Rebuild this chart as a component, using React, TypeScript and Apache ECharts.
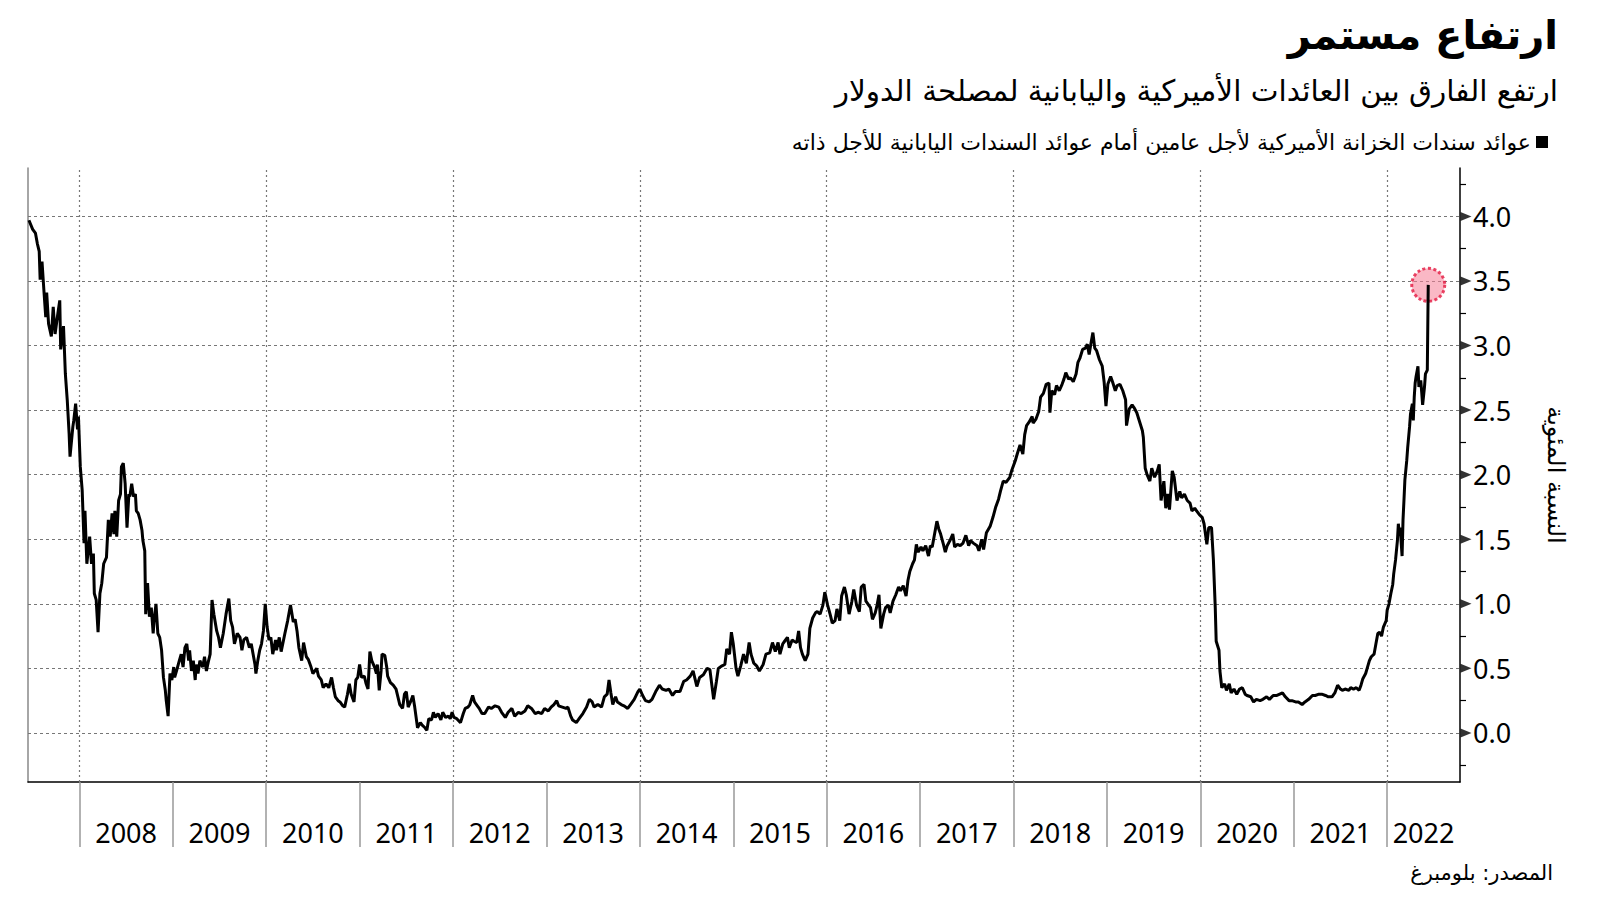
import React, { useEffect, useRef } from "react";
import * as echarts from "echarts";

const TITLE = "ارتفاع مستمر";
const SUBTITLE = "ارتفع الفارق بين العائدات الأميركية واليابانية لمصلحة الدولار";
const SERIES_NAME = "عوائد سندات الخزانة الأميركية لأجل عامين أمام عوائد السندات اليابانية للأجل ذاته";
const Y_NAME = "النسبة المئوية";
const SOURCE = "المصدر: بلومبرغ";

const X_MIN = 2007.45;
const X_MAX = 2022.78;
const Y_MIN = -0.38;
const Y_MAX = 4.375;

const yearTicks = [2008, 2009, 2010, 2011, 2012, 2013, 2014, 2015, 2016, 2017, 2018, 2019, 2020, 2021, 2022];
const yearGrid = [2008, 2010, 2012, 2014, 2016, 2018, 2020, 2022];
const yLabels = [0, 0.5, 1, 1.5, 2, 2.5, 3, 3.5, 4];
const yMinorTicks = [-0.25, 0.25, 0.75, 1.25, 1.75, 2.25, 2.75, 3.25, 3.75, 4.25];

// [fractional year, spread in percentage points]
const spread2007to2010 = [
  [2007.46, 3.97], [2007.5, 3.9], [2007.53, 3.87], [2007.55, 3.79], [2007.57, 3.73], [2007.58, 3.51],
  [2007.6, 3.65], [2007.62, 3.43], [2007.64, 3.22], [2007.65, 3.41], [2007.67, 3.17], [2007.7, 3.07],
  [2007.72, 3.3], [2007.74, 3.09], [2007.77, 3.25], [2007.79, 3.35], [2007.8, 2.97], [2007.83, 3.15],
  [2007.85, 2.78], [2007.87, 2.58], [2007.89, 2.32], [2007.9, 2.14], [2007.93, 2.37], [2007.94, 2.42],
  [2007.96, 2.55], [2007.98, 2.35], [2007.99, 2.45], [2008.01, 2.06], [2008.03, 1.88], [2008.05, 1.47],
  [2008.06, 1.72], [2008.08, 1.31], [2008.11, 1.52], [2008.13, 1.31], [2008.15, 1.39], [2008.16, 1.08],
  [2008.18, 1.03], [2008.2, 0.78], [2008.22, 1.08], [2008.24, 1.16], [2008.26, 1.31], [2008.29, 1.36],
  [2008.31, 1.65], [2008.33, 1.52], [2008.35, 1.7], [2008.37, 1.54], [2008.38, 1.72], [2008.4, 1.52],
  [2008.42, 1.8], [2008.44, 1.85], [2008.45, 2.06], [2008.47, 2.09], [2008.49, 1.93], [2008.51, 1.59],
  [2008.53, 1.85], [2008.54, 1.83], [2008.56, 1.93], [2008.58, 1.83], [2008.6, 1.85], [2008.61, 1.72],
  [2008.63, 1.7], [2008.65, 1.65], [2008.67, 1.57], [2008.68, 1.49], [2008.7, 1.41], [2008.71, 0.92],
  [2008.73, 1.16], [2008.75, 0.9], [2008.77, 0.97], [2008.79, 0.77], [2008.8, 0.87], [2008.82, 1.0],
  [2008.84, 0.77], [2008.86, 0.74], [2008.88, 0.64], [2008.9, 0.43], [2008.92, 0.33], [2008.93, 0.25],
  [2008.95, 0.13], [2008.97, 0.46], [2008.99, 0.41], [2009.01, 0.51], [2009.02, 0.43], [2009.04, 0.48],
  [2009.07, 0.56], [2009.09, 0.61], [2009.11, 0.51], [2009.13, 0.66], [2009.15, 0.69], [2009.17, 0.56],
  [2009.18, 0.64], [2009.2, 0.48], [2009.22, 0.56], [2009.24, 0.41], [2009.25, 0.53], [2009.27, 0.46],
  [2009.29, 0.56], [2009.32, 0.51], [2009.34, 0.59], [2009.36, 0.48], [2009.38, 0.55], [2009.4, 0.61],
  [2009.42, 1.03], [2009.44, 0.92], [2009.47, 0.79], [2009.49, 0.74], [2009.51, 0.66], [2009.54, 0.77],
  [2009.56, 0.87], [2009.57, 0.92], [2009.6, 1.04], [2009.62, 0.87], [2009.64, 0.82], [2009.66, 0.69],
  [2009.69, 0.77], [2009.72, 0.74], [2009.74, 0.64], [2009.76, 0.72], [2009.79, 0.74], [2009.82, 0.66],
  [2009.84, 0.69], [2009.86, 0.61], [2009.88, 0.53], [2009.89, 0.46], [2009.91, 0.56], [2009.93, 0.64],
  [2009.95, 0.69], [2009.97, 0.79], [2009.99, 1.0], [2010.01, 0.82], [2010.03, 0.72], [2010.05, 0.74],
  [2010.07, 0.61], [2010.1, 0.72], [2010.11, 0.64], [2010.14, 0.74],
];

const spread2010to2014 = [
  [2010.16, 0.63], [2010.2, 0.77], [2010.23, 0.87], [2010.26, 0.99], [2010.29, 0.86], [2010.31, 0.88],
  [2010.33, 0.79], [2010.35, 0.66], [2010.38, 0.56], [2010.4, 0.7], [2010.43, 0.59], [2010.45, 0.57],
  [2010.48, 0.51], [2010.5, 0.46], [2010.54, 0.5], [2010.56, 0.44], [2010.59, 0.41], [2010.61, 0.35],
  [2010.64, 0.38], [2010.67, 0.35], [2010.7, 0.43], [2010.72, 0.35], [2010.74, 0.28], [2010.77, 0.25],
  [2010.79, 0.24], [2010.82, 0.21], [2010.84, 0.2], [2010.87, 0.3], [2010.89, 0.38], [2010.91, 0.3],
  [2010.94, 0.24], [2010.96, 0.41], [2010.98, 0.43], [2011.0, 0.53], [2011.02, 0.43], [2011.05, 0.44],
  [2011.07, 0.38], [2011.09, 0.34], [2011.11, 0.63], [2011.13, 0.56], [2011.16, 0.51], [2011.18, 0.46],
  [2011.19, 0.53], [2011.21, 0.33], [2011.23, 0.48], [2011.24, 0.61], [2011.27, 0.6], [2011.29, 0.51],
  [2011.3, 0.44], [2011.33, 0.39], [2011.36, 0.37], [2011.39, 0.34], [2011.41, 0.28], [2011.43, 0.22],
  [2011.46, 0.19], [2011.48, 0.3], [2011.5, 0.32], [2011.52, 0.2], [2011.55, 0.25], [2011.57, 0.29],
  [2011.59, 0.2], [2011.62, 0.04], [2011.65, 0.08], [2011.67, 0.06], [2011.7, 0.04], [2011.72, 0.02],
  [2011.74, 0.11], [2011.77, 0.1], [2011.79, 0.16], [2011.81, 0.12], [2011.84, 0.15], [2011.87, 0.1],
  [2011.89, 0.16], [2011.92, 0.12], [2011.95, 0.13], [2011.97, 0.11], [2011.99, 0.16], [2012.01, 0.12],
  [2012.04, 0.11], [2012.08, 0.08], [2012.11, 0.15], [2012.13, 0.19], [2012.16, 0.2], [2012.18, 0.22],
  [2012.21, 0.29], [2012.23, 0.24], [2012.26, 0.21], [2012.28, 0.19], [2012.31, 0.15], [2012.34, 0.15],
  [2012.38, 0.2], [2012.41, 0.19], [2012.45, 0.21], [2012.49, 0.2], [2012.52, 0.16], [2012.56, 0.12],
  [2012.59, 0.16], [2012.63, 0.19], [2012.66, 0.13], [2012.7, 0.16], [2012.73, 0.15], [2012.77, 0.17],
  [2012.8, 0.21], [2012.84, 0.19], [2012.88, 0.15], [2012.91, 0.16], [2012.95, 0.15], [2012.98, 0.19],
  [2013.02, 0.17], [2013.05, 0.2], [2013.08, 0.22], [2013.11, 0.25], [2013.13, 0.21], [2013.17, 0.2],
  [2013.21, 0.19], [2013.23, 0.2], [2013.26, 0.13], [2013.28, 0.1], [2013.32, 0.08], [2013.35, 0.11],
  [2013.39, 0.15], [2013.43, 0.2], [2013.46, 0.26], [2013.49, 0.24], [2013.51, 0.2], [2013.55, 0.22],
  [2013.59, 0.2], [2013.62, 0.28], [2013.65, 0.3], [2013.67, 0.41], [2013.69, 0.31], [2013.71, 0.22],
  [2013.74, 0.28], [2013.76, 0.24], [2013.8, 0.22], [2013.83, 0.21], [2013.87, 0.19], [2013.9, 0.22],
  [2013.94, 0.26], [2013.98, 0.32], [2014.0, 0.34], [2014.03, 0.29], [2014.06, 0.25], [2014.1, 0.24],
  [2014.13, 0.26], [2014.17, 0.32], [2014.21, 0.37], [2014.24, 0.34], [2014.28, 0.33], [2014.31, 0.34],
  [2014.35, 0.29], [2014.38, 0.32],
];

const spread2014to2017 = [
  [2014.43, 0.32], [2014.47, 0.4], [2014.5, 0.41], [2014.54, 0.44], [2014.57, 0.48], [2014.61, 0.36],
  [2014.64, 0.43], [2014.68, 0.45], [2014.72, 0.5], [2014.75, 0.49], [2014.79, 0.26], [2014.82, 0.4],
  [2014.84, 0.5], [2014.88, 0.52], [2014.91, 0.53], [2014.93, 0.65], [2014.96, 0.61], [2014.98, 0.78],
  [2015.0, 0.69], [2015.03, 0.5], [2015.05, 0.44], [2015.08, 0.52], [2015.11, 0.61], [2015.14, 0.54],
  [2015.17, 0.7], [2015.19, 0.61], [2015.22, 0.54], [2015.25, 0.52], [2015.28, 0.48], [2015.32, 0.53],
  [2015.35, 0.61], [2015.39, 0.62], [2015.42, 0.7], [2015.45, 0.63], [2015.48, 0.7], [2015.5, 0.61],
  [2015.53, 0.69], [2015.55, 0.71], [2015.58, 0.74], [2015.6, 0.66], [2015.63, 0.72], [2015.65, 0.71],
  [2015.68, 0.7], [2015.7, 0.79], [2015.72, 0.66], [2015.74, 0.61], [2015.77, 0.56], [2015.8, 0.61],
  [2015.82, 0.81], [2015.85, 0.89], [2015.88, 0.93], [2015.9, 0.94], [2015.93, 0.92], [2015.96, 0.99],
  [2015.98, 1.09], [2016.01, 0.99], [2016.04, 0.91], [2016.06, 0.85], [2016.09, 0.87], [2016.11, 0.96],
  [2016.14, 0.87], [2016.16, 1.06], [2016.19, 1.13], [2016.21, 1.07], [2016.24, 0.92], [2016.27, 1.02],
  [2016.29, 1.11], [2016.32, 0.99], [2016.35, 0.94], [2016.37, 1.13], [2016.4, 1.15], [2016.42, 1.02],
  [2016.45, 0.99], [2016.47, 0.97], [2016.49, 0.88], [2016.52, 0.93], [2016.54, 0.99], [2016.56, 1.07],
  [2016.58, 0.81], [2016.61, 0.92], [2016.63, 0.97], [2016.66, 0.99], [2016.68, 0.93], [2016.71, 1.02],
  [2016.74, 1.07], [2016.77, 1.13], [2016.79, 1.1], [2016.82, 1.14], [2016.85, 1.06], [2016.87, 1.18],
  [2016.89, 1.25], [2016.92, 1.31], [2016.94, 1.34], [2016.96, 1.46], [2016.98, 1.4], [2017.01, 1.44],
  [2017.03, 1.41], [2017.06, 1.45], [2017.09, 1.37], [2017.11, 1.45], [2017.13, 1.44], [2017.16, 1.56],
  [2017.18, 1.64], [2017.2, 1.58], [2017.22, 1.54], [2017.25, 1.46], [2017.27, 1.4], [2017.29, 1.45],
  [2017.32, 1.49], [2017.35, 1.54], [2017.37, 1.44], [2017.4, 1.46], [2017.43, 1.45], [2017.46, 1.47],
  [2017.49, 1.53], [2017.52, 1.45], [2017.54, 1.49], [2017.57, 1.47], [2017.61, 1.45], [2017.63, 1.41],
  [2017.66, 1.5], [2017.68, 1.42], [2017.71, 1.55], [2017.75, 1.6], [2017.78, 1.67], [2017.81, 1.75],
  [2017.84, 1.81],
];

const spread2017to2020 = [
  [2017.86, 1.87], [2017.89, 1.95], [2017.92, 1.94], [2017.96, 1.98], [2017.98, 2.03], [2018.02, 2.11],
  [2018.04, 2.16], [2018.07, 2.23], [2018.1, 2.16], [2018.12, 2.31], [2018.14, 2.38], [2018.17, 2.41],
  [2018.2, 2.45], [2018.21, 2.4], [2018.24, 2.43], [2018.27, 2.49], [2018.29, 2.6], [2018.32, 2.63],
  [2018.35, 2.7], [2018.38, 2.71], [2018.39, 2.48], [2018.41, 2.65], [2018.44, 2.62], [2018.46, 2.69],
  [2018.49, 2.65], [2018.52, 2.7], [2018.54, 2.74], [2018.56, 2.79], [2018.59, 2.74], [2018.61, 2.75],
  [2018.64, 2.72], [2018.67, 2.78], [2018.69, 2.87], [2018.71, 2.9], [2018.74, 2.97], [2018.77, 2.98],
  [2018.79, 3.01], [2018.81, 2.93], [2018.83, 3.02], [2018.85, 3.1], [2018.87, 2.98], [2018.89, 2.96],
  [2018.92, 2.89], [2018.95, 2.84], [2018.97, 2.72], [2018.99, 2.53], [2019.01, 2.7], [2019.04, 2.76],
  [2019.06, 2.72], [2019.09, 2.65], [2019.11, 2.69], [2019.14, 2.7], [2019.17, 2.65], [2019.2, 2.58],
  [2019.21, 2.38], [2019.24, 2.51], [2019.27, 2.54], [2019.29, 2.52], [2019.32, 2.48], [2019.35, 2.41],
  [2019.38, 2.34], [2019.39, 2.29], [2019.41, 2.05], [2019.43, 2.0], [2019.46, 1.95], [2019.48, 2.05],
  [2019.51, 1.98], [2019.54, 2.03], [2019.56, 2.08], [2019.58, 1.8], [2019.61, 1.95], [2019.63, 1.74],
  [2019.65, 1.85], [2019.67, 1.73], [2019.7, 2.03], [2019.72, 1.98], [2019.75, 1.8], [2019.78, 1.87],
  [2019.8, 1.82], [2019.83, 1.85], [2019.86, 1.8], [2019.89, 1.78], [2019.91, 1.72], [2019.94, 1.74],
  [2019.96, 1.72], [2019.99, 1.69], [2020.02, 1.67], [2020.04, 1.62], [2020.07, 1.46], [2020.09, 1.59],
  [2020.12, 1.59],
];

const spread2020to2022 = [
  [2020.14, 1.34], [2020.16, 0.97], [2020.17, 0.71], [2020.2, 0.64], [2020.21, 0.48], [2020.23, 0.35],
  [2020.26, 0.38], [2020.28, 0.33], [2020.31, 0.38], [2020.33, 0.31], [2020.36, 0.34], [2020.39, 0.3],
  [2020.42, 0.34], [2020.45, 0.35], [2020.48, 0.3], [2020.5, 0.29], [2020.54, 0.28], [2020.57, 0.24],
  [2020.6, 0.26], [2020.64, 0.25], [2020.67, 0.26], [2020.71, 0.28], [2020.74, 0.26], [2020.78, 0.29],
  [2020.82, 0.29], [2020.85, 0.3], [2020.88, 0.31], [2020.91, 0.28], [2020.95, 0.25], [2020.98, 0.25],
  [2021.02, 0.24], [2021.05, 0.24], [2021.09, 0.22], [2021.12, 0.24], [2021.16, 0.26], [2021.2, 0.29],
  [2021.23, 0.29], [2021.27, 0.3], [2021.3, 0.3], [2021.34, 0.29], [2021.37, 0.28], [2021.41, 0.28],
  [2021.44, 0.31], [2021.47, 0.37], [2021.5, 0.34], [2021.52, 0.33], [2021.55, 0.34], [2021.59, 0.33],
  [2021.61, 0.35], [2021.64, 0.34], [2021.67, 0.35], [2021.7, 0.33], [2021.72, 0.37], [2021.74, 0.42],
  [2021.77, 0.46], [2021.79, 0.51], [2021.81, 0.56], [2021.83, 0.59], [2021.86, 0.61], [2021.88, 0.69],
  [2021.9, 0.77], [2021.92, 0.78], [2021.94, 0.75], [2021.96, 0.82], [2021.99, 0.87], [2022.0, 0.95],
  [2022.02, 1.0], [2022.04, 1.08], [2022.06, 1.15], [2022.07, 1.23], [2022.09, 1.34], [2022.11, 1.49],
  [2022.12, 1.62], [2022.13, 1.54], [2022.14, 1.59], [2022.16, 1.37], [2022.17, 1.65], [2022.18, 1.8],
  [2022.19, 1.96], [2022.21, 2.11], [2022.22, 2.21], [2022.24, 2.37], [2022.25, 2.47], [2022.27, 2.55],
  [2022.28, 2.42], [2022.29, 2.6], [2022.3, 2.71], [2022.31, 2.76], [2022.33, 2.84], [2022.34, 2.68],
  [2022.36, 2.73], [2022.37, 2.64], [2022.38, 2.54], [2022.4, 2.68], [2022.41, 2.78], [2022.43, 2.81],
  [2022.44, 3.47],
];

export default function App() {
  const ref = useRef<HTMLDivElement>(null);

  useEffect(() => {
    if (!ref.current) return;
    const chart = echarts.init(ref.current, null, { renderer: "svg" });
    const data = [
      ...spread2007to2010,
      ...spread2010to2014,
      ...spread2014to2017,
      ...spread2017to2020,
      ...spread2020to2022,
    ];
    const last = data[data.length - 1];
    const labelPositions = yearTicks.map((y) => (y + Math.min(y + 1, X_MAX)) / 2);
    const arabic = "'DejaVu Sans', sans-serif";
    const latin = "'Noto Sans', 'DejaVu Sans', sans-serif";

    chart.setOption({
      animation: false,
      backgroundColor: "#ffffff",
      textStyle: { fontFamily: latin },
      grid: { left: 28, right: 140, top: 168, bottom: 119, containLabel: false },
      legend: {
        data: [SERIES_NAME],
        right: 47,
        top: 126,
        align: "right",
        icon: "rect",
        itemWidth: 12,
        itemHeight: 12,
        selectedMode: false,
        textStyle: { fontFamily: arabic, fontSize: 22, color: "#000" },
      },
      xAxis: {
        type: "value",
        min: X_MIN,
        max: X_MAX,
        axisLine: { show: true, onZero: false, lineStyle: { color: "#000", width: 1.5 } },
        axisTick: {
          show: true,
          customValues: yearTicks,
          length: 65,
          lineStyle: { color: "#999", width: 1.5 },
        },
        axisLabel: {
          customValues: labelPositions,
          formatter: (v: number) => String(Math.floor(v)),
          margin: 37,
          fontSize: 27,
          color: "#000",
          fontFamily: latin,
        },
        splitLine: { show: false },
      },
      yAxis: [
        {
          type: "value",
          position: "right",
          min: Y_MIN,
          max: Y_MAX,
          axisLine: { show: true, onZero: false, lineStyle: { color: "#000", width: 1.5 } },
          axisTick: {
            show: true,
            customValues: yMinorTicks,
            length: 6,
            lineStyle: { color: "#000", width: 1.2 },
          },
          axisLabel: {
            customValues: yLabels,
            formatter: (v: number) => v.toFixed(1),
            margin: 13,
            fontSize: 27,
            color: "#000",
            fontFamily: latin,
          },
          splitLine: { show: false },
          name: Y_NAME,
          nameLocation: "middle",
          nameRotate: -90,
          nameGap: 84,
          nameTextStyle: { fontFamily: arabic, fontSize: 24, color: "#000" },
        },
        {
          type: "value",
          position: "left",
          min: Y_MIN,
          max: Y_MAX,
          axisLine: { show: true, onZero: false, lineStyle: { color: "#888", width: 1.5 } },
          axisTick: { show: false },
          axisLabel: { show: false },
          splitLine: { show: false },
        },
      ],
      series: [
        {
          type: "line",
          name: SERIES_NAME,
          data,
          yAxisIndex: 0,
          symbol: "none",
          showSymbol: false,
          lineStyle: { color: "#000", width: 3 },
          itemStyle: { color: "#000" },
          z: 3,
          markLine: {
            silent: true,
            z: 1,
            symbol: ["none", "none"],
            label: { show: false },
            animation: false,
            data: [
              ...yLabels.map((v) => ({
                yAxis: v,
                lineStyle: { color: "#777", width: 1.2, type: [3, 3] },
              })),
              ...yearGrid.map((v) => ({
                xAxis: v,
                lineStyle: { color: "#777", width: 1.2, type: [2, 3] },
              })),
            ],
          },
        },
        {
          type: "scatter",
          yAxisIndex: 0,
          data: [last],
          symbolSize: 33,
          itemStyle: {
            color: "rgba(246, 128, 152, 0.7)",
            borderColor: "#e3163f",
            borderWidth: 3,
            borderType: [3, 2.5],
          },
          silent: true,
          z: 2,
        },
        {
          type: "scatter",
          yAxisIndex: 0,
          data: yLabels.map((v) => [X_MAX, v]),
          symbol: "triangle",
          symbolRotate: -90,
          symbolSize: [9, 11],
          symbolOffset: [6, 0],
          itemStyle: { color: "#000" },
          clip: false,
          silent: true,
          z: 4,
        },
      ],
      graphic: [
        {
          type: "text",
          right: 42,
          top: 15,
          style: { text: TITLE, font: `bold 40px ${arabic}`, fill: "#000" },
        },
        {
          type: "text",
          right: 42,
          top: 76,
          style: { text: SUBTITLE, font: `29.5px ${arabic}`, fill: "#000" },
        },
        {
          type: "text",
          right: 47,
          top: 862,
          style: { text: SOURCE, font: `21px ${arabic}`, fill: "#000" },
        },
      ],
    });

    return () => chart.dispose();
  }, []);

  return (
    <div
      ref={ref}
      style={{ position: "fixed", left: 0, top: 0, width: 1600, height: 901, background: "#fff" }}
    />
  );
}
